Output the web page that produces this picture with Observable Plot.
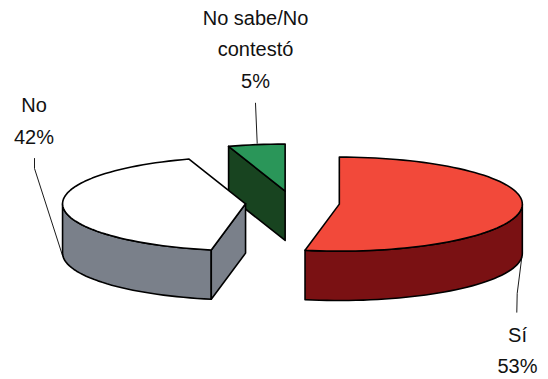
<!DOCTYPE html>
<html>
<head>
<meta charset="utf-8">
<script src="https://cdn.jsdelivr.net/npm/d3@7"></script>
<script src="https://cdn.jsdelivr.net/npm/@observablehq/plot@0.6"></script>
<style>
html,body{margin:0;padding:0;background:#fff}
svg{display:block}
</style>
</head>
<body>
<div id="chart"></div>
<script>
// Data
const categories = ["Sí", "No", "No sabe/No\ncontestó"];
const shares = [53, 42, 5];

// Styles per slice
const topColors = ["#F2493A", "#FFFFFF", "#2A9659"];
const sideColors = ["#7A1113", "#7A808A", "#184420"];

// Pie layout, in pie units (1 x unit = radius, 1 y unit = squashed radius)
const explode = 0.257;
const depth = 1.05;
const W = 548, H = 379;
const pxX = 183, pxY = 47, originX = 292, originY = 202.5;

const arcs = d3.pie().sort(null)(shares);
const TAU = 2 * Math.PI;
const steps = a => Math.max(2, Math.ceil(Math.abs(a) / 0.04));
const rim = (a0, a1, c, dz = 0) => d3.range(steps(a1 - a0) + 1).map(i => {
  const a = a0 + (a1 - a0) * i / steps(a1 - a0);
  return [c[0] + Math.sin(a), c[1] - Math.cos(a) + dz];
});

const polys = [];
const addPoly = (id, fill, pts) => {
  [...pts, pts[0]].forEach(([x, y]) => polys.push({id, fill, x, y}));
};

// Painter's order: small slice at the back, then "No", then "Sí"
[2, 1, 0].forEach(i => {
  const s = arcs[i];
  const mid = (s.startAngle + s.endAngle) / 2;
  const c = [explode * Math.sin(mid), -explode * Math.cos(mid)];
  const a0 = s.startAngle, a1 = s.endAngle;
  const side = sideColors[i], top = topColors[i];

  // outer wall: only the part of the rim facing the viewer (90° to 270°)
  const w0 = Math.max(a0, TAU / 4), w1 = Math.min(a1, 3 * TAU / 4);
  if (w1 > w0) {
    addPoly(`wall-${i}`, side, [...rim(w0, w1, c), ...rim(w0, w1, c, depth).reverse()]);
  }
  // radial wall facing the viewer (not on "Sí", whose cut faces away)
  if (i !== 0) {
    const e = rim(a0, a0, c)[0];
    addPoly(`radial-${i}`, side, [c, e, [e[0], e[1] + depth], [c[0], c[1] + depth]]);
  }
  // top face
  addPoly(`top-${i}`, top, [c, ...rim(a0, a1, c)]);
});

// Label and leader layout, read in picture pixels and turned into pie units
const unitX = p => (p - originX) / pxX;
const unitY = p => (p - originY) / pxY;
const labelSpots = [[517, 347], [33.5, 117.5], [255, 45.5]];
const labels = categories.map((c, i) => ({
  text: `${c}\n${shares[i]}%`, x: unitX(labelSpots[i][0]), y: unitY(labelSpots[i][1])
}));
const leaderPaths = [
  [[516.3, 311.7], [516.7, 293], [521.3, 256.7]],
  [[34, 158], [34, 168], [62, 255]],
  [[255, 102.7], [256.7, 142.7]]
];
const leaders = leaderPaths.flatMap((p, id) => p.map(([x, y]) => ({id, x: unitX(x), y: unitY(y)})));

const chart = Plot.plot({
  width: W,
  height: H,
  margin: 0,
  style: {background: "#fff"},
  x: {axis: null, domain: [-originX / pxX, (W - originX) / pxX], range: [0, W]},
  y: {axis: null, domain: [-originY / pxY, (H - originY) / pxY], range: [0, H]},
  marks: [
    Plot.line(polys, {
      x: "x", y: "y", z: "id", fill: "fill",
      stroke: "#000", strokeWidth: 1.6, strokeLinejoin: "round", curve: "linear"
    }),
    Plot.line(leaders, {
      x: "x", y: "y", z: "id", stroke: "#000", strokeWidth: 0.9, curve: "linear"
    }),
    Plot.text(labels, {
      x: "x", y: "y", text: "text",
      fontFamily: "Liberation Sans, Arial, sans-serif",
      fontSize: 20, lineHeight: 1.575, fill: "#111", textAnchor: "middle"
    })
  ]
});
document.getElementById("chart").append(chart);
</script>
</body>
</html>
